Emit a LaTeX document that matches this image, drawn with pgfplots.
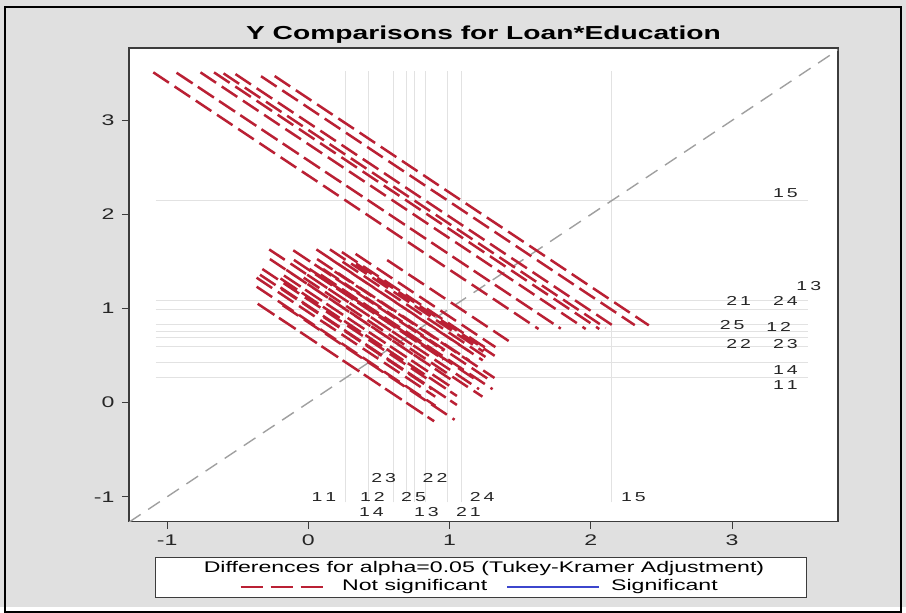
\documentclass[border=0pt]{standalone}
\usepackage{fontspec}
\setmainfont{Liberation Sans}
\usepackage{pgfplots}
\pgfplotsset{compat=1.18}

\definecolor{sasred}{RGB}{186,32,52}
\definecolor{sasblue}{RGB}{60,70,205}
\definecolor{bggray}{RGB}{224,224,224}
\definecolor{refgray}{RGB}{226,226,226}
\definecolor{diaggray}{RGB}{160,160,160}
\definecolor{framegray}{RGB}{60,60,60}

% the graph is drawn in a wide aspect, so text is widened to match
\newcommand{\wide}[1]{\scalebox{1.5}[1]{#1}}
% two-digit level label with open letter spacing
\newcommand{\lab}[2]{\wide{#1\kern2pt#2}}

\begin{document}
\begin{tikzpicture}[x=1pt,y=1pt]
\fill[bggray] (0,0) rectangle (906,607);
\draw[black, line width=1.2pt] (5,-5) rectangle (901,600);
\useasboundingbox (0,0) rectangle (906,607);

% title
\node at (483.5,572) {\wide{\fontsize{18.8}{20}\selectfont\bfseries Y Comparisons for Loan*Education}};

\begin{axis}[
  at={(129pt,85.3pt)}, anchor=south west,
  width=709pt, height=473.7pt, scale only axis,
  xmin=-1.27, xmax=3.75, ymin=-1.265, ymax=3.77,
  axis background/.style={fill=white},
  axis line style={draw=framegray, line width=1.2pt},
  xtick={-1,0,1,2,3}, ytick={-1,0,1,2,3},
  xtick pos=left, ytick pos=left,
  tick align=outside, major tick length=7pt,
  tick style={framegray, line width=1pt},
  xticklabel={\wide{\fontsize{15.4}{16}\selectfont\pgfmathprintnumber[assume math mode=true]{\tick}}},
  yticklabel={\wide{\fontsize{15.4}{16}\selectfont\pgfmathprintnumber[assume math mode=true]{\tick}}},
  xticklabel style={yshift=-3pt, text=black!85},
  yticklabel style={xshift=-4pt, text=black!85},
  unbounded coords=jump,
]
% reference lines at the LS-means
\addplot[refgray, line width=0.9pt] coordinates {
 (-1.08,0.266) (3.54,0.266) (nan,nan)
 (-1.08,0.427) (3.54,0.427) (nan,nan)
 (-1.08,0.600) (3.54,0.600) (nan,nan)
 (-1.08,0.696) (3.54,0.696) (nan,nan)
 (-1.08,0.752) (3.54,0.752) (nan,nan)
 (-1.08,0.829) (3.54,0.829) (nan,nan)
 (-1.08,0.988) (3.54,0.988) (nan,nan)
 (-1.08,1.086) (3.54,1.086) (nan,nan)
 (-1.08,2.147) (3.54,2.147) (nan,nan)
 (0.266,-1.06) (0.266,3.53) (nan,nan)
 (0.427,-1.06) (0.427,3.53) (nan,nan)
 (0.600,-1.06) (0.600,3.53) (nan,nan)
 (0.696,-1.06) (0.696,3.53) (nan,nan)
 (0.752,-1.06) (0.752,3.53) (nan,nan)
 (0.829,-1.06) (0.829,3.53) (nan,nan)
 (0.988,-1.06) (0.988,3.53) (nan,nan)
 (1.086,-1.06) (1.086,3.53) (nan,nan)
 (2.147,-1.06) (2.147,3.53)
};
% line of equality
\addplot[diaggray, line width=1.4pt, dash pattern=on 14pt off 9pt] coordinates {(-1.27,-1.27) (3.77,3.77)};

% confidence segments of the pairwise differences, level 15 against the rest
\addplot[sasred, line width=2.5pt, dash pattern=on 18.7pt off 6.8pt] coordinates {
 (-1.0978,3.5108) (1.6298,0.7832) (nan,nan)
 (-0.9331,3.5071) (1.7871,0.7869) (nan,nan)
 (-0.9295,3.5035) (1.7835,0.7905) (nan,nan)
 (-0.7638,3.5108) (1.9638,0.7832) (nan,nan)
 (-0.6678,3.5108) (2.0598,0.7832) (nan,nan)
 (-0.6008,3.4998) (2.1048,0.7942) (nan,nan)
 (-0.5164,3.4924) (2.1744,0.8016) (nan,nan)
 (-0.3349,3.4699) (2.3109,0.8241) (nan,nan)
 (-0.2388,3.4718) (2.4108,0.8222)
};
% remaining pairs
\addplot[sasred, line width=2.5pt, dash pattern=on 18.7pt off 6.8pt] coordinates {
 (-0.3585,1.0515) (0.8905,-0.1975) (nan,nan)
 (-0.3504,1.0434) (0.8824,-0.1894) (nan,nan)
 (-0.3665,1.2325) (0.8985,-0.0325) (nan,nan)
 (-0.3665,1.3285) (0.8985,0.0635) (nan,nan)
 (-0.3423,1.3603) (0.8743,0.1437) (nan,nan)
 (-0.3256,1.4206) (0.8576,0.2374) (nan,nan)
 (-0.2725,1.5265) (0.8045,0.4495) (nan,nan)
 (-0.2771,1.6291) (0.8091,0.5429) (nan,nan)
 (-0.1813,1.0353) (1.0353,-0.1813) (nan,nan)
 (-0.1975,1.2245) (1.0515,-0.0245) (nan,nan)
 (-0.1975,1.3205) (1.0515,0.0715) (nan,nan)
 (-0.1730,1.3520) (1.0270,0.1520) (nan,nan)
 (-0.1561,1.4121) (1.0101,0.2459) (nan,nan)
 (-0.1022,1.5172) (0.9562,0.4588) (nan,nan)
 (-0.1069,1.6199) (0.9609,0.5521) (nan,nan)
 (-0.1894,1.2164) (1.0434,-0.0164) (nan,nan)
 (-0.1894,1.3124) (1.0434,0.0796) (nan,nan)
 (-0.1646,1.3436) (1.0186,0.1604) (nan,nan)
 (-0.1475,1.4035) (1.0015,0.2545) (nan,nan)
 (-0.0926,1.5076) (0.9466,0.4684) (nan,nan)
 (-0.0974,1.6104) (0.9514,0.5616) (nan,nan)
 (-0.0325,1.3285) (1.2325,0.0635) (nan,nan)
 (-0.0083,1.3603) (1.2083,0.1437) (nan,nan)
 (0.0084,1.4206) (1.1916,0.2374) (nan,nan)
 (0.0615,1.5265) (1.1385,0.4495) (nan,nan)
 (0.0569,1.6291) (1.1431,0.5429) (nan,nan)
 (0.0877,1.3603) (1.3043,0.1437) (nan,nan)
 (0.1044,1.4206) (1.2876,0.2374) (nan,nan)
 (0.1575,1.5265) (1.2345,0.4495) (nan,nan)
 (0.1529,1.6291) (1.2391,0.5429) (nan,nan)
 (0.1863,1.3947) (1.3177,0.2633) (nan,nan)
 (0.2421,1.4979) (1.2619,0.4781) (nan,nan)
 (0.2372,1.6008) (1.2668,0.5712) (nan,nan)
 (0.3391,1.4779) (1.3189,0.4981) (nan,nan)
 (0.3340,1.5810) (1.3240,0.5910) (nan,nan)
 (0.5579,1.5161) (1.4181,0.6559)
};

% level labels of the reference lines
\begin{scope}[every node/.style={font=\fontsize{13}{14}\selectfont, text=black!85, inner sep=0pt}]
\node at (axis cs:0.110,-1.000) {\lab11};
\node at (axis cs:0.453,-1.000) {\lab12};
\node at (axis cs:0.745,-1.000) {\lab25};
\node at (axis cs:1.231,-1.000) {\lab24};
\node at (axis cs:2.302,-1.000) {\lab15};
\node at (axis cs:0.533,-0.800) {\lab23};
\node at (axis cs:0.897,-0.800) {\lab22};
\node at (axis cs:0.447,-1.165) {\lab14};
\node at (axis cs:0.836,-1.165) {\lab13};
\node at (axis cs:1.133,-1.165) {\lab21};
\node at (axis cs:3.378,2.225) {\lab15};
\node at (axis cs:3.543,1.240) {\lab13};
\node at (axis cs:3.047,1.081) {\lab21};
\node at (axis cs:3.378,1.081) {\lab24};
\node at (axis cs:3.001,0.826) {\lab25};
\node at (axis cs:3.330,0.808) {\lab12};
\node at (axis cs:3.047,0.621) {\lab22};
\node at (axis cs:3.378,0.621) {\lab23};
\node at (axis cs:3.378,0.347) {\lab14};
\node at (axis cs:3.378,0.191) {\lab11};
\end{scope}
\end{axis}

% legend
\draw[framegray, fill=white, line width=1pt] (155,9.3) rectangle (806,49);
\node at (484,38) {\wide{\fontsize{15.4}{16}\selectfont Differences for alpha=0.05 (Tukey-Kramer Adjustment)}};
\draw[sasred, line width=2.5pt, dash pattern=on 22pt off 8pt] (240.6,20) -- (323,20);
\node[anchor=west, inner sep=0pt] at (342,20) {\wide{\fontsize{15.4}{16}\selectfont Not significant}};
\draw[sasblue, line width=2pt] (507,20) -- (598.6,20);
\node[anchor=west, inner sep=0pt] at (611,20) {\wide{\fontsize{15.4}{16}\selectfont Significant}};
\end{tikzpicture}
\end{document}
